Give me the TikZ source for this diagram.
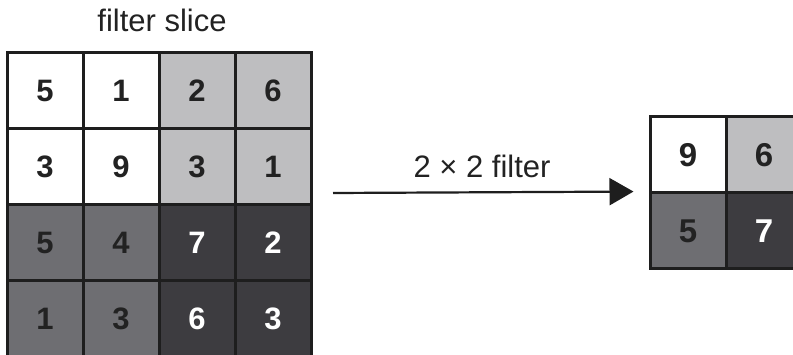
\documentclass[tikz,border=0pt]{standalone}
\usepackage{fontspec}
\setmainfont{Liberation Sans}
\usetikzlibrary{arrows.meta}
\definecolor{cwhite}{HTML}{FFFFFF}
\definecolor{clight}{HTML}{BEBEC0}
\definecolor{cmid}{HTML}{6E6E72}
\definecolor{cdark}{HTML}{3D3C40}
\definecolor{cline}{HTML}{1E1E1E}
\definecolor{ctext}{HTML}{222222}
\tikzset{
  x=1pt, y=1pt,
  cell/.style={draw=cline, line width=3pt, minimum size=76pt, inner sep=0pt,
    font=\fontsize{31}{31}\selectfont\bfseries, text=ctext},
  bigcell/.style={cell, font=\fontsize{33}{33}\selectfont\bfseries},
  w/.style={fill=cwhite},
  l/.style={fill=clight},
  m/.style={fill=cmid},
  d/.style={fill=cdark, text=white},
  lab/.style={font=\fontsize{31}{31}\selectfont, text=ctext, inner sep=0pt, anchor=base},
  arr/.style={draw=cline, line width=2.2pt, -{Triangle[length=24pt,width=27pt]}}
}
\begin{document}
\begin{tikzpicture}
\useasboundingbox (0,0) rectangle (793,-355);
\clip (0,0) rectangle (793,-355);
\fill[white] (0,0) rectangle (793,-355);
\node[lab] (title) at (162,-32) {filter slice};
% left grid
\node[cell,w] (a11) at (45,-91) {5};
\node[cell,w] (a12) at (121,-91) {1};
\node[cell,l] (a13) at (197,-91) {2};
\node[cell,l] (a14) at (273,-91) {6};
\node[cell,w] (a21) at (45,-167) {3};
\node[cell,w] (a22) at (121,-167) {9};
\node[cell,l] (a23) at (197,-167) {3};
\node[cell,l] (a24) at (273,-167) {1};
\node[cell,m] (a31) at (45,-243) {5};
\node[cell,m] (a32) at (121,-243) {4};
\node[cell,d] (a33) at (197,-243) {7};
\node[cell,d] (a34) at (273,-243) {2};
\node[cell,m] (a41) at (45,-319) {1};
\node[cell,m] (a42) at (121,-319) {3};
\node[cell,d] (a43) at (197,-319) {6};
\node[cell,d] (a44) at (273,-319) {3};
% right grid
\node[bigcell,w] (r11) at (688,-155) {9};
\node[bigcell,l] (r12) at (764,-155) {6};
\node[bigcell,m] (r21) at (688,-231) {5};
\node[bigcell,d] (r22) at (764,-231) {7};
% arrow
\coordinate (astart) at (333,-193);
\draw[arr, shorten >=15pt] (astart) -- (r21.north west);
\node[lab] (flab) at (482,-178) {2 × 2 filter};
\end{tikzpicture}
\end{document}
